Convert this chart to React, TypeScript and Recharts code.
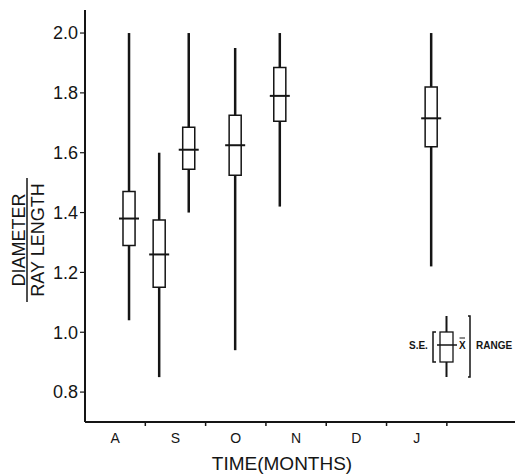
import React from 'react';
import {
  ComposedChart,
  XAxis,
  YAxis,
  Scatter,
  ReferenceLine,
  ReferenceArea,
} from 'recharts';

// months along the bottom, bands of one month each
const monthLabels = ['A', 'S', 'O', 'N', 'D', 'J'];
const monthCenters = [0.5, 1.5, 2.5, 3.5, 4.5, 5.5];
const monthBounds = [1, 2, 3, 4, 5, 6];
const yTicks = [0.8, 1.0, 1.2, 1.4, 1.6, 1.8, 2.0];

// sampling dates (in months from start of A)
const sampleTime = [0.73, 1.23, 1.72, 2.49, 3.23, 5.74];
const rangeLow = [1.04, 0.85, 1.4, 0.94, 1.42, 1.22];
const rangeHigh = [2.0, 1.6, 2.0, 1.95, 2.0, 2.0];
const seLow = [1.29, 1.15, 1.545, 1.525, 1.705, 1.62];
const seHigh = [1.47, 1.375, 1.685, 1.725, 1.885, 1.82];
const means = [1.38, 1.26, 1.61, 1.625, 1.79, 1.715];

const data = sampleTime.map((t, i) => ({
  t,
  mean: means[i],
  lo: rangeLow[i],
  hi: rangeHigh[i],
  seLo: seLow[i],
  seHi: seHigh[i],
}));

const xTicks = [...monthCenters, ...monthBounds].sort((a, b) => a - b);

const FONT = '"Liberation Sans", Arial, sans-serif';
const INK = '#151515';
const BOX_HALF = 0.1; // half box width, in months

const MeanMark = (props: any) => {
  const { cx, cy } = props;
  return (
    <line x1={cx - 10} x2={cx + 10} y1={cy} y2={cy} stroke={INK} strokeWidth={2} />
  );
};

// month boundaries get a short mark, month centres get the letter
const MonthTick = (props: any) => {
  const { x, y, payload } = props;
  const idx = monthCenters.indexOf(payload.value);
  if (idx < 0) {
    return <line x1={x} x2={x} y1={y} y2={y + 4} stroke={INK} strokeWidth={1.5} />;
  }
  return (
    <text x={x} y={y + 21} textAnchor="middle" fontSize={14} fontFamily={FONT} fill={INK}>
      {monthLabels[idx]}
    </text>
  );
};

const YLabel = (props: any) => {
  const { viewBox } = props;
  const cx = viewBox.x + 27;
  const cy = viewBox.y + 230;
  return (
    <g transform={`translate(${cx},${cy}) rotate(-90)`} fontFamily={FONT} fill={INK}>
      <text x={0} y={-2} textAnchor="middle" fontSize={18}>
        DIAMETER
      </text>
      <line x1={-62} x2={62} y1={0} y2={0} stroke={INK} strokeWidth={1.5} />
      <text x={0} y={17} textAnchor="middle" fontSize={18}>
        RAY LENGTH
      </text>
    </g>
  );
};

const XTitle = (props: any) => {
  const { viewBox } = props;
  return (
    <text
      x={viewBox.x + 197}
      y={viewBox.y + 48}
      textAnchor="middle"
      fontSize={19}
      fontFamily={FONT}
      fill={INK}
    >
      TIME(MONTHS)
    </text>
  );
};

const KeyBox = () => (
  <svg
    width={110}
    height={70}
    style={{ position: 'absolute', left: 405, top: 312 }}
    fontFamily={FONT}
  >
    <text x={4} y={37} fontSize={10} fontWeight="bold" fill={INK}>
      S.E.
    </text>
    <path d="M31 20 H28 V50 H31" fill="none" stroke={INK} strokeWidth={1.5} />
    <line x1={41.5} x2={41.5} y1={4} y2={20} stroke={INK} strokeWidth={2} />
    <line x1={41.5} x2={41.5} y1={50} y2={65} stroke={INK} strokeWidth={2} />
    <rect x={35} y={20} width={13} height={30} fill="none" stroke={INK} strokeWidth={1.3} />
    <line x1={32} x2={52} y1={33} y2={33} stroke={INK} strokeWidth={1.5} />
    <text x={54} y={37} fontSize={10} fontWeight="bold" fill={INK}>
      X
    </text>
    <line x1={54.5} x2={60} y1={26} y2={26} stroke={INK} strokeWidth={1} />
    <path d="M63 4 H65 V65 H63" fill="none" stroke={INK} strokeWidth={1.5} />
    <text x={71} y={37} fontSize={10} fontWeight="bold" fill={INK}>
      RANGE
    </text>
  </svg>
);

const App: React.FC = () => {
  return (
    <div style={{ position: 'absolute', left: 0, top: 0, width: 515, height: 475, background: '#fff' }}>
      <ComposedChart
        width={515}
        height={475}
        data={data}
        margin={{ top: 10, right: 0, bottom: 0, left: 0 }}
      >
        <XAxis
          dataKey="t"
          type="number"
          domain={[0, 7.13]}
          ticks={xTicks}
          interval={0}
          height={53}
          axisLine={{ stroke: INK, strokeWidth: 2 }}
          tickLine={false}
          tickSize={0}
          tickMargin={0}
          tick={<MonthTick />}
          label={<XTitle />}
        />
        <YAxis
          domain={[0.7, 2.077]}
          ticks={yTicks}
          width={85}
          allowDataOverflow
          axisLine={{ stroke: INK, strokeWidth: 2 }}
          tickLine={{ stroke: INK, strokeWidth: 1.2 }}
          tickSize={5}
          tickMargin={2}
          tickFormatter={(v: number) => v.toFixed(1)}
          tick={{ fill: INK, fontSize: 18, fontFamily: FONT }}
          label={<YLabel />}
        />
        {data.map((d) => (
          <ReferenceLine
            key={`up${d.t}`}
            segment={[{ x: d.t, y: d.hi }, { x: d.t, y: d.seHi }]}
            stroke={INK}
            strokeWidth={2.5}
          />
        ))}
        {data.map((d) => (
          <ReferenceLine
            key={`dn${d.t}`}
            segment={[{ x: d.t, y: d.seLo }, { x: d.t, y: d.lo }]}
            stroke={INK}
            strokeWidth={2.5}
          />
        ))}
        {data.map((d) => (
          <ReferenceArea
            key={`se${d.t}`}
            x1={d.t - BOX_HALF}
            x2={d.t + BOX_HALF}
            y1={d.seLo}
            y2={d.seHi}
            fill="none"
            fillOpacity={0}
            stroke={INK}
            strokeWidth={1.5}
          />
        ))}
        <Scatter dataKey="mean" shape={<MeanMark />} isAnimationActive={false} />
      </ComposedChart>
      <KeyBox />
    </div>
  );
};

export default App;
